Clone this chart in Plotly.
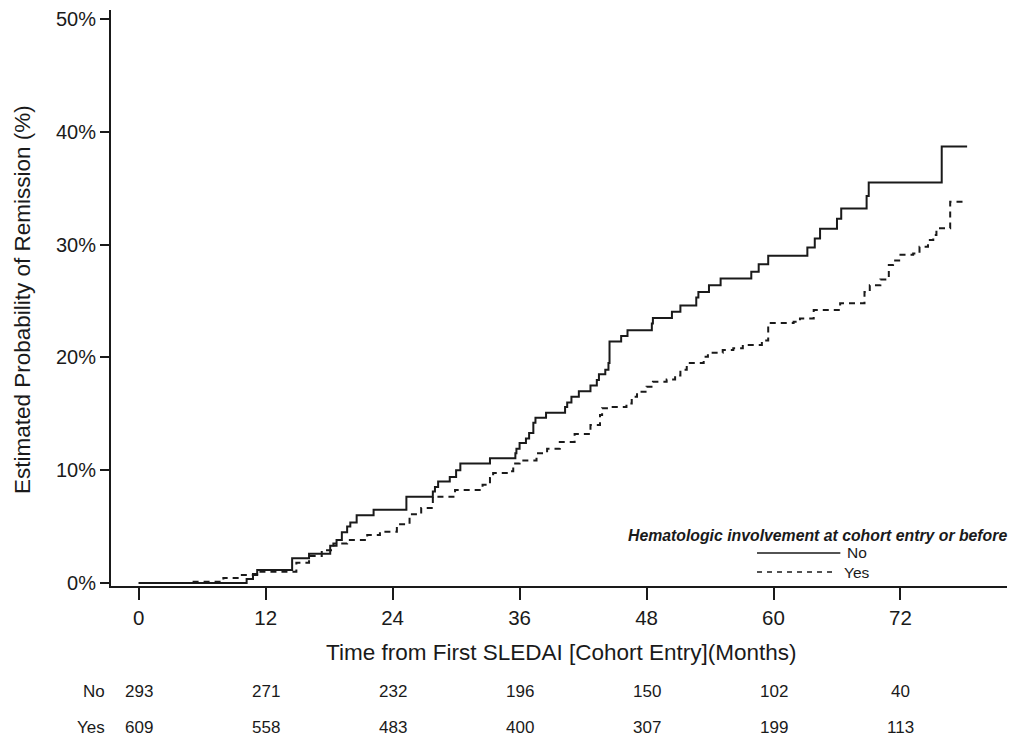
import plotly.graph_objects as go

# Kaplan-Meier style cumulative probability of remission (%)
no_months = [0, 10.2, 10.8, 11.2, 14.5, 16.1, 18.1, 18.7, 19.2, 19.7, 20.0, 20.6, 22.2,
             25.3, 27.8, 28.0, 28.3, 29.4, 30.0, 30.4, 33.2, 35.6, 35.7, 36.0, 36.6, 36.9,
             37.3, 37.5, 38.5, 40.3, 40.5, 40.9, 41.6, 42.7, 43.3, 43.5, 44.1, 44.4, 44.5,
             45.6, 46.2, 48.5, 48.6, 50.4, 51.2, 52.7, 52.9, 53.9, 55.0, 57.9, 58.6, 59.5,
             63.2, 63.9, 64.4, 66.0, 66.4, 68.8, 69.0, 75.9, 78.3]
no_pct = [0, 0.35, 0.8, 1.15, 2.2, 2.6, 3.3, 3.8, 4.5, 5.0, 5.35, 6.0, 6.5,
          7.65, 8.1, 8.5, 9.0, 9.4, 10.0, 10.6, 11.05, 11.5, 11.9, 12.4, 12.8, 13.3,
          14.2, 14.65, 15.1, 15.6, 16.0, 16.5, 17.0, 17.5, 18.0, 18.5, 18.9, 19.5, 21.4,
          21.9, 22.4, 23.0, 23.5, 24.05, 24.6, 25.3, 25.8, 26.4, 27.0, 27.6, 28.25, 29.0,
          29.75, 30.55, 31.4, 32.3, 33.2, 34.3, 35.5, 38.7, 38.7]

yes_months = [0, 4.7, 8.0, 9.6, 11.2, 14.9, 16.1, 17.3, 18.4, 19.7, 21.6, 22.8, 24.4,
              25.6, 26.7, 27.8, 29.9, 32.5, 33.2, 33.5, 35.1, 35.4, 36.0, 37.6, 38.6,
              39.8, 41.2, 42.7, 43.6, 43.8, 44.8, 46.1, 46.6, 47.1, 48.0, 48.6, 49.9,
              50.7, 51.2, 51.8, 53.4, 53.8, 55.2, 56.2, 57.1, 58.9, 59.5, 61.9, 62.5,
              63.8, 66.3, 68.6, 69.1, 70.1, 70.9, 71.3, 72.0, 73.2, 73.8, 74.6, 75.1,
              75.4, 76.7, 78.3]
yes_pct = [0, 0.1, 0.45, 0.7, 1.0, 1.8, 2.4, 2.9, 3.5, 3.8, 4.25, 4.55, 5.2,
           6.1, 6.65, 7.65, 8.25, 8.7, 9.3, 9.75, 9.9, 10.6, 10.85, 11.5, 11.9,
           12.5, 13.2, 14.0, 14.9, 15.5, 15.6, 15.9, 16.5, 16.95, 17.4, 17.85, 18.05,
           18.4, 18.9, 19.5, 20.05, 20.4, 20.65, 20.8, 21.1, 21.5, 23.05, 23.15, 23.45,
           24.2, 24.8, 25.8, 26.4, 26.9, 28.2, 28.6, 29.1, 29.2, 29.8, 30.4, 30.85,
           31.45, 33.8, 33.8]

# number at risk
risk_times = [0, 12, 24, 36, 48, 60, 72]
risk_no = [293, 271, 232, 196, 150, 102, 40]
risk_yes = [609, 558, 483, 400, 307, 199, 113]

y_ticks = [0, 10, 20, 30, 40, 50]
y_tick_labels = ["0%", "10%", "20%", "30%", "40%", "50%"]

FONT = "Liberation Sans, Arial, sans-serif"
INK = "#1a1a1a"

fig = go.Figure()
fig.add_trace(go.Scatter(x=no_months, y=no_pct, mode="lines", line_shape="hv",
                         line=dict(color=INK, width=2), name="No", showlegend=False))
fig.add_trace(go.Scatter(x=yes_months, y=yes_pct, mode="lines", line_shape="hv",
                         line=dict(color=INK, width=2, dash="6px,5px"), name="Yes",
                         showlegend=False))

ann = []
# number-at-risk table
for t, n in zip(risk_times, risk_no):
    ann.append(dict(x=t, y=-0.184, xref="x", yref="paper", text=str(n), showarrow=False,
                    font=dict(size=17, color=INK, family=FONT), xanchor="center", yanchor="middle"))
for t, n in zip(risk_times, risk_yes):
    ann.append(dict(x=t, y=-0.2465, xref="x", yref="paper", text=str(n), showarrow=False,
                    font=dict(size=17, color=INK, family=FONT), xanchor="center", yanchor="middle"))
ann.append(dict(x=-0.005, y=-0.184, xref="paper", yref="paper", text="No", showarrow=False,
                font=dict(size=17, color=INK, family=FONT), xanchor="right", yanchor="middle"))
ann.append(dict(x=-0.005, y=-0.2465, xref="paper", yref="paper", text="Yes", showarrow=False,
                font=dict(size=17, color=INK, family=FONT), xanchor="right", yanchor="middle"))
# axis titles
ann.append(dict(x=0.503, y=-0.1146, xref="paper", yref="paper",
                text="Time from First SLEDAI [Cohort Entry](Months)", showarrow=False,
                font=dict(size=22.5, color=INK, family=FONT), xanchor="center", yanchor="middle"))
ann.append(dict(x=-0.099, y=0.497, xref="paper", yref="paper",
                text="Estimated Probability of Remission (%)", showarrow=False, textangle=-90,
                font=dict(size=22.5, color=INK, family=FONT), xanchor="center", yanchor="middle"))
# legend
ann.append(dict(x=1.002, y=0.0885, xref="paper", yref="paper",
                text="<b><i>Hematologic involvement at cohort entry or before</i></b>",
                showarrow=False, font=dict(size=15.8, color=INK, family=FONT),
                xanchor="right", yanchor="middle"))
ann.append(dict(x=0.819, y=0.0573, xref="paper", yref="paper", text="No", showarrow=False,
                font=dict(size=15.5, color=INK, family=FONT), xanchor="left", yanchor="middle"))
ann.append(dict(x=0.816, y=0.0243, xref="paper", yref="paper", text="Yes", showarrow=False,
                font=dict(size=15.5, color=INK, family=FONT), xanchor="left", yanchor="middle"))

shapes = [
    dict(type="line", xref="paper", yref="paper", x0=0.721, x1=0.814, y0=0.0573, y1=0.0573,
         line=dict(color=INK, width=1.5)),
    dict(type="line", xref="paper", yref="paper", x0=0.721, x1=0.810, y0=0.0243, y1=0.0243,
         line=dict(color=INK, width=1.5, dash="5px,5px")),
]

fig.update_layout(
    width=1011, height=744,
    margin=dict(l=111, r=4, t=10, b=158),
    paper_bgcolor="white", plot_bgcolor="white",
    font=dict(family=FONT, color=INK),
    annotations=ann, shapes=shapes, showlegend=False,
    xaxis=dict(range=[-2.62, 82.07], tickvals=risk_times, ticks="outside", ticklen=12,
               tickwidth=1.5, tickcolor=INK, showline=True, linecolor=INK, linewidth=2,
               showgrid=False, zeroline=False, tickfont=dict(size=20.5, family=FONT, color=INK)),
    yaxis=dict(range=[-0.27, 50.8], tickvals=y_ticks, ticktext=y_tick_labels, ticks="outside",
               ticklen=9, tickwidth=1.5, tickcolor=INK, showline=True, linecolor=INK,
               linewidth=2, showgrid=False, zeroline=False,
               tickfont=dict(size=20, family=FONT, color=INK)),
)

# remove the default page margin so the figure fills the window exactly
fig.write_html("out.html", config={"displayModeBar": False},
               post_script="document.body.style.margin='0';document.body.style.overflow='hidden';")
